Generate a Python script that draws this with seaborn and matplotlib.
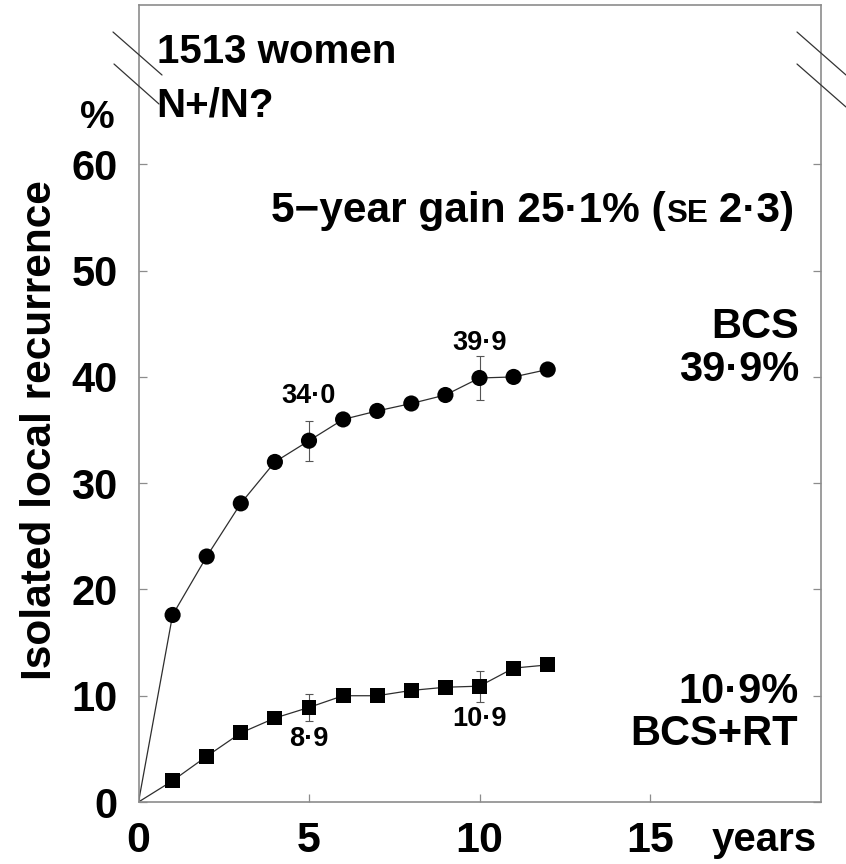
import matplotlib
matplotlib.use("Agg")
import matplotlib.pyplot as plt
from matplotlib import font_manager
from matplotlib.lines import Line2D
import pandas as pd
import seaborn as sns

# Cumulative isolated local recurrence (%) by year of follow-up
years = [1, 2, 3, 4, 5, 6, 7, 8, 9, 10, 11, 12]
bcs = [17.6, 23.1, 28.1, 32.0, 34.0, 36.0, 36.8, 37.5, 38.3, 39.9, 40.0, 40.7]
bcs_rt = [2.0, 4.3, 6.5, 7.9, 8.9, 10.0, 10.0, 10.5, 10.8, 10.9, 12.6, 12.9]

# Standard errors shown at 5 and 10 years
se_years = [5, 10]
bcs_se = [1.9, 2.1]
bcs_rt_se = [1.25, 1.45]

x_ticks = [0, 5, 10, 15]
y_ticks = [0, 10, 20, 30, 40, 50, 60]
group_lines = ["1513 women", "N+/N?"]
gain_parts = ["5\u2212year gain 25\u00b71% (", "SE", " 2\u00b73)"]
series_names = ["BCS", "BCS+RT"]

W, H, DPI = 846, 864, 100

sns.set_theme(style="white")
plt.rcParams["font.family"] = ["Liberation Sans", "DejaVu Sans"]
plt.rcParams["font.weight"] = "bold"
plt.rcParams["text.color"] = "black"
plt.rcParams["axes.labelcolor"] = "black"
plt.rcParams["xtick.color"] = "black"
plt.rcParams["ytick.color"] = "black"

installed = {f.name for f in font_manager.fontManager.ttflist}
narrow = "Liberation Sans Narrow" if "Liberation Sans Narrow" in installed else "Liberation Sans"


def fmt(v):
    return f"{v:.1f}".replace(".", "\u00b7")


fig = plt.figure(figsize=(W / DPI, H / DPI), dpi=DPI)
fig.patch.set_facecolor("white")
ax = fig.add_axes([138.5 / W, 1 - 802 / H, 682 / W, 797 / H])
ax.set_facecolor("white")

line_color = "#2e2e2e"
err_color = "#555555"

for vals, se, marker, size in ((bcs, bcs_se, "o", 135), (bcs_rt, bcs_rt_se, "s", 115)):
    df = pd.DataFrame({"year": [0] + years, "value": [0.0] + vals})
    sns.lineplot(data=df, x="year", y="value", color=line_color, linewidth=0.9,
                 ax=ax, zorder=2, legend=False)
    sns.scatterplot(x=years, y=vals, marker=marker, s=size, color="black",
                    edgecolor="none", linewidth=0, ax=ax, zorder=3, legend=False)
    se_vals = [vals[years.index(y)] for y in se_years]
    ax.errorbar(se_years, se_vals, yerr=se, fmt="none", ecolor=err_color,
                elinewidth=0.8, capsize=3, capthick=0.8, zorder=1.5)

# Axes
ax.set_xlim(0, 20)
ax.set_ylim(0, 75)
ax.set_xticks(x_ticks, labels=[str(t) for t in x_ticks], fontfamily=narrow, fontsize=31)
ax.set_yticks(y_ticks, labels=[str(t) for t in y_ticks], fontsize=30)
ax.set_xlabel("")
ax.set_ylabel("")
ax.tick_params(axis="both", direction="in", length=6, width=0.9, color="#8c8c8c",
               labelcolor="black")
ax.tick_params(axis="y", left=True, right=True, pad=15)
ax.tick_params(axis="x", bottom=True, top=False, pad=14)
for sp in ax.spines.values():
    sp.set_visible(True)
    sp.set_color("#8c8c8c")
    sp.set_linewidth(1.2)

# Values at 5 and 10 years
for yr, off in zip(se_years, (27, 20)):
    v = bcs[years.index(yr)]
    ax.annotate(fmt(v), (yr, v), xytext=(0, off), textcoords="offset points",
                ha="center", va="baseline", fontsize=19.5, fontweight="bold")
for yr, off in zip(se_years, (-28, -29)):
    v = bcs_rt[years.index(yr)]
    ax.annotate(fmt(v), (yr, v), xytext=(0, off), textcoords="offset points",
                ha="center", va="baseline", fontsize=19.5, fontweight="bold")

# Series labels at the right
ax.text(19.38, 43.65, series_names[0], ha="right", va="baseline", fontsize=30)
ax.text(19.38, 39.6, fmt(bcs[years.index(10)]) + "%", ha="right", va="baseline", fontsize=30)
ax.text(19.35, 9.3, fmt(bcs_rt[years.index(10)]) + "%", ha="right", va="baseline", fontsize=30)
ax.text(19.35, 5.36, series_names[1], ha="right", va="baseline", fontsize=30)

# Group description
ax.text(0.53, 69.5, group_lines[0], ha="left", va="baseline", fontsize=29)
ax.text(0.53, 64.5, group_lines[1], ha="left", va="baseline", fontsize=29)

# Gain statement with small-caps SE, laid out right to left
renderer = fig.canvas.get_renderer()
xd, yd = ax.transData.transform((19.24, 54.6))
for piece, size in reversed(list(zip(gain_parts, (30.5, 22.5, 30.5)))):
    t = fig.text(xd / W, yd / H, piece, ha="right", va="baseline", fontsize=size)
    xd = t.get_window_extent(renderer).x0

ax.text(18.36, -4.6, "years", ha="center", va="baseline", fontsize=29, clip_on=False)
ax.text(-1.2, 63.4, "%", ha="center", va="baseline", fontsize=28, clip_on=False)
fig.text(40 / W, 1 - 430 / H, "Isolated local recurrence", rotation=90,
         ha="center", va="center", fontsize=30.5)

# Axis break marks
for (x0, y0, x1, y1) in ((113, 32, 162, 75), (114, 64, 159, 104),
                         (797, 32, 846, 75), (797, 64, 846, 107)):
    fig.add_artist(Line2D([x0 / W, x1 / W], [1 - y0 / H, 1 - y1 / H],
                          transform=fig.transFigure, color="#333333", linewidth=0.9))

fig.savefig("out.png", dpi=DPI, facecolor="white")
